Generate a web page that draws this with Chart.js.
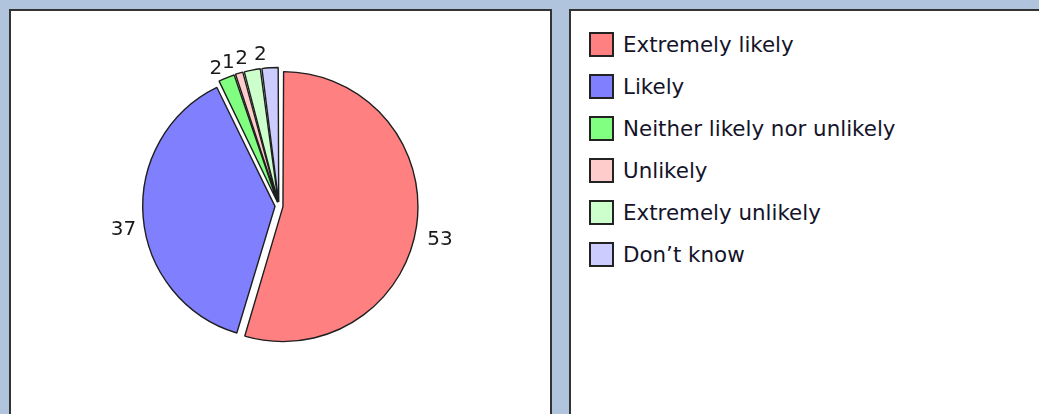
<!DOCTYPE html>
<html>
<head>
<meta charset="utf-8">
<script src="https://cdn.jsdelivr.net/npm/chart.js@4"></script>
<style>
  html, body { margin: 0; padding: 0; }
  body {
    width: 1039px; height: 414px; overflow: hidden; position: relative;
    background: #b0c4de;
    font-family: "DejaVu Sans", Verdana, sans-serif;
  }
  .panel {
    position: absolute; top: 9px; height: 430px;
    background: #fff; border: 2px solid #333; box-sizing: border-box;
  }
  #pie-panel { left: 9px; width: 543px; }
  #legend-panel { left: 569px; width: 490px; }
  #pie-canvas { position: absolute; left: 0; top: 0; }
  #legend { position: absolute; left: 18px; top: 12px; margin: 0; padding: 0; list-style: none; }
  #legend li { height: 42px; display: flex; align-items: center; font-size: 21.4px; color: #14142a; }
  #legend .swatch {
    width: 25px; height: 25px; box-sizing: border-box;
    border: 2px solid #222; margin-right: 9px; flex: none;
  }
</style>
</head>
<body>
<div class="panel" id="pie-panel">
  <canvas id="pie-canvas" width="538" height="405"></canvas>
</div>
<div class="panel" id="legend-panel">
  <ul id="legend"></ul>
</div>
<script>
const categories = [
  "Extremely likely",
  "Likely",
  "Neither likely nor unlikely",
  "Unlikely",
  "Extremely unlikely",
  "Don\u2019t know",
];
const values = [53, 37, 2, 1, 2, 2];
const sliceColors = ["#ff8080", "#8080ff", "#80ff80", "#ffcccc", "#ccffcc", "#ccccff"];

// legend lives in its own panel, built from the same arrays
const legendList = document.getElementById("legend");
categories.forEach((name, i) => {
  const item = document.createElement("li");
  const swatch = document.createElement("span");
  swatch.className = "swatch";
  swatch.style.background = sliceColors[i];
  item.appendChild(swatch);
  item.appendChild(document.createTextNode(name));
  legendList.appendChild(item);
});

// value labels just outside each slice
const valueLabels = {
  id: "valueLabels",
  afterDatasetsDraw(chart) {
    const ctx = chart.ctx;
    const meta = chart.getDatasetMeta(0);
    ctx.save();
    ctx.font = '20px "DejaVu Sans", Verdana, sans-serif';
    ctx.fillStyle = "#1a1a1a";
    ctx.textAlign = "center";
    ctx.textBaseline = "middle";
    meta.data.forEach((arc, i) => {
      const { x, y, startAngle, endAngle, outerRadius } = arc.getProps(
        ["x", "y", "startAngle", "endAngle", "outerRadius"], true);
      const mid = (startAngle + endAngle) / 2;
      const c = Math.cos(mid);
      const s = Math.sin(mid);
      const r = outerRadius + 21 + 6 * c * c;
      let dx = (3.5 + 1.5 * c) * c * c;
      if (s < 0) dx -= 9 * Math.pow(-s, 6);
      const dy = 11 * Math.abs(c);
      ctx.fillText(String(values[i]), x + c * r + dx, y + s * r + dy);
    });
    ctx.restore();
  },
};

new Chart(document.getElementById("pie-canvas").getContext("2d"), {
  type: "pie",
  data: {
    labels: categories,
    datasets: [
      {
        data: values,
        backgroundColor: sliceColors,
        borderColor: "#1e1e1e",
        borderWidth: 1.4,
        offset: 16,
        radius: 131,
      },
    ],
  },
  options: {
    responsive: false,
    animation: false,
    layout: { padding: { left: 40, right: 42, top: 41, bottom: 56 } },
    plugins: {
      legend: { display: false },
      tooltip: { enabled: false },
    },
  },
  plugins: [valueLabels],
});
</script>
</body>
</html>
